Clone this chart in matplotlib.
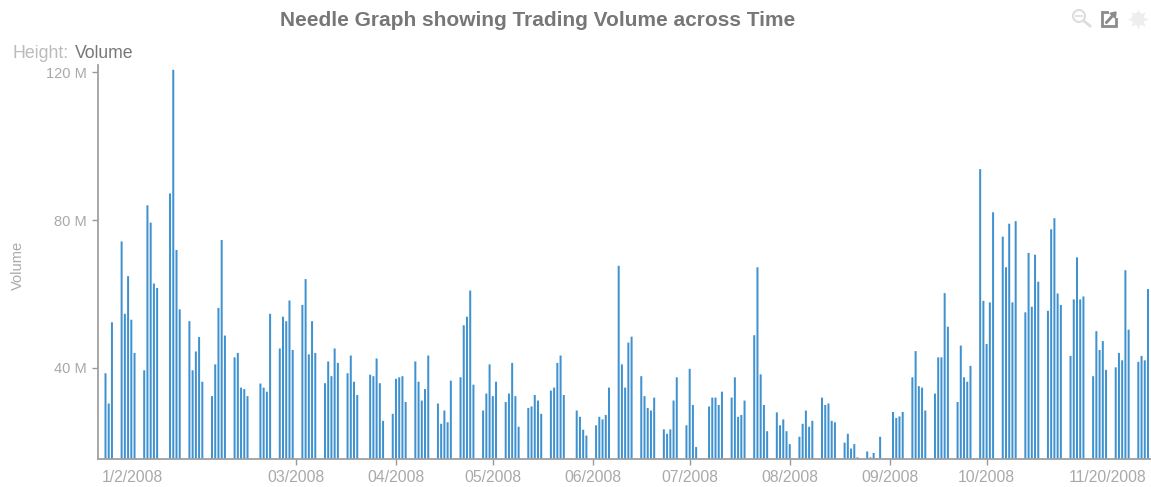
import matplotlib
matplotlib.use("Agg")
import pandas as pd
import matplotlib.pyplot as plt
from matplotlib.patches import Circle, Rectangle, FancyArrow

holidays = ["2008-01-21", "2008-02-18", "2008-03-21", "2008-05-26", "2008-07-04", "2008-09-01"]

# volume in millions, one value per trading day
jan = [38.5, 30.3, 52.3, 74.2, 54.6, 64.8, 53.0, 44.0, 39.3, 84.0, 79.3, 62.8, 61.6,
       87.2, 120.7, 71.9, 55.8, 52.6, 39.3, 44.4, 48.3]
feb = [36.2, 32.3, 40.9, 56.2, 74.6, 48.7, 42.8, 44.0, 34.6, 34.2, 32.3, 35.7, 34.6,
       33.5, 54.6, 45.2, 53.8, 52.6, 58.2, 44.8]
mar = [57.0, 64.0, 43.6, 52.6, 44.0, 35.8, 41.7, 37.7, 45.2, 41.3, 38.5, 43.3, 36.2,
       32.6, 38.1, 37.7, 42.5, 35.8, 25.6, 27.5]
apr = [37.0, 37.4, 37.7, 30.7, 41.7, 36.2, 31.1, 34.2, 43.3, 30.3, 24.8, 28.4, 25.2,
       36.5, 37.4, 51.5, 53.8, 60.9, 35.4, 28.4, 33.0, 40.9]
may = [32.3, 36.2, 30.7, 33.0, 41.3, 32.3, 24.0, 29.1, 29.5, 32.6, 31.1, 27.5, 33.8,
       34.6, 41.3, 43.3, 32.6, 28.4, 26.7, 23.2, 21.6]
jun = [24.4, 26.7, 26.0, 27.2, 34.6, 67.6, 40.9, 34.6, 46.8, 48.4, 37.7, 32.3, 29.1,
       28.4, 31.9, 23.3, 22.1, 23.3, 31.1, 37.4, 24.4]
jul = [39.7, 29.9, 18.5, 29.5, 31.9, 31.9, 29.9, 33.5, 31.9, 37.4, 26.7, 27.2, 31.1,
       48.8, 67.2, 38.2, 29.9, 22.8, 27.9, 24.4, 26.0, 22.8]
aug = [19.3, 21.3, 24.8, 28.4, 24.0, 25.6, 31.9, 29.9, 30.3, 25.6, 25.2, 19.7, 22.1,
       18.1, 19.3, 15.7, 17.3, 15.7, 16.9, 15.4, 21.3]
sep = [28.0, 26.4, 26.8, 28.0, 37.4, 44.5, 35.0, 34.6, 28.4, 33.0, 42.8, 42.8, 60.2,
       51.1, 30.7, 46.0, 37.4, 36.2, 40.5, 93.8, 58.1]
oct_ = [46.4, 57.7, 82.1, 75.5, 67.2, 79.0, 57.7, 79.7, 55.0, 71.1, 56.5, 70.6, 63.3,
        55.4, 77.5, 80.5, 60.1, 57.0, 43.2, 58.5, 69.9, 58.5, 59.3]
nov = [37.7, 49.9, 44.8, 47.2, 39.4, 40.1, 44.0, 42.0, 66.4, 50.3, 41.6, 43.2, 42.0, 61.3]

month_ticks = ["2008-03-01", "2008-04-01", "2008-05-01", "2008-06-01", "2008-07-01",
               "2008-08-01", "2008-09-01", "2008-10-01"]
month_labels = ["03/2008", "04/2008", "05/2008", "06/2008", "07/2008", "08/2008", "09/2008", "10/2008"]
y_ticks = [40, 80, 120]

volume = jan + feb + mar + apr + may + jun + jul + aug + sep + oct_ + nov
days = pd.bdate_range("2008-01-02", "2008-11-20")
days = days[~days.isin(pd.to_datetime(holidays))]

W, H = 1151, 487
GREY = "#a9a9a9"
plt.rcParams["font.family"] = ["Liberation Sans", "DejaVu Sans"]

fig = plt.figure(figsize=(W / 100, H / 100), dpi=100)
ax = fig.add_axes([98 / W, 1 - 458.5 / H, (W - 98) / W, (458.5 - 65) / H])

bars = ax.bar(days, volume, width=0.62, color="#3f92cf", linewidth=0)
for b in bars:
    b.set_snap(False)

# 3.228 px per calendar day, first bar sits 7.5 px right of the axis
ax.set_xlim(pd.Timestamp("2008-01-02") - pd.Timedelta(days=2.32),
            pd.Timestamp("2008-11-20") + pd.Timedelta(days=0.93))
ax.set_ylim(15.4, 122)

ax.set_yticks(y_ticks)
ax.set_yticklabels([str(v) + " M" for v in y_ticks])
ax.set_xticks(pd.to_datetime(month_ticks))
ax.set_xticklabels(month_labels)
ax.tick_params(axis="both", colors="#999999", labelcolor=GREY, length=4, width=1)
ax.tick_params(axis="x", pad=4, labelsize=11.3)
ax.tick_params(axis="y", pad=4, labelsize=10.5)

for s in ["top", "right"]:
    ax.spines[s].set_visible(False)
for s in ["left", "bottom"]:
    ax.spines[s].set_color("#a0a0a0")
    ax.spines[s].set_linewidth(1.3)

# labels of the first and last date, no tick under them
fig.text(132.5 / W, 1 - 478 / H, "1/2/2008", color=GREY, fontsize=11.3, ha="center", va="center")
fig.text(1108 / W, 1 - 478 / H, "11/20/2008", color=GREY, fontsize=11.3, ha="center", va="center")

fig.text(537.5 / W, 1 - 21 / H, "Needle Graph showing Trading Volume across Time",
         color="#777777", fontsize=15, fontweight="bold", ha="center", va="center")
fig.text(13 / W, 1 - 54 / H, "Height:", color="#bbbbbb", fontsize=12.8, ha="left", va="center")
fig.text(75 / W, 1 - 54 / H, "Volume", color="#777777", fontsize=12.7, ha="left", va="center")
fig.text(18 / W, 1 - 265 / H, "Volume", color=GREY, fontsize=10.5, rotation=90, ha="center", va="center")

# toolbar icons, drawn on an overlay in pixel coordinates
ui = fig.add_axes([0, 0, 1, 1], facecolor="none")
ui.set_xlim(0, W)
ui.set_ylim(H, 0)
ui.axis("off")
ui.add_patch(Circle((1079, 16), 6, fill=False, ec="#dddddd", lw=1.5))
ui.plot([1076, 1082], [16, 16], color="#dddddd", lw=1.2)
ui.plot([1084, 1090], [21, 26], color="#dddddd", lw=2)
ui.add_patch(Rectangle((1102.5, 12), 14, 14, fill=False, ec="#8c8c8c", lw=2))
ui.add_patch(Rectangle((1109, 9), 10, 9, fc="white", ec="none"))
ui.add_patch(FancyArrow(1106, 23, 10, -11, width=1.5, head_width=7, head_length=5,
                        length_includes_head=True, color="#8c8c8c"))
ui.plot([1138], [19], marker=(8, 1, 0), ms=15, color="#eeeeee", mew=0)
ui.add_patch(Circle((1138, 19), 6.5, fc="#eeeeee", ec="none"))
ui.add_patch(Circle((1138, 19), 2.5, fc="white", ec="none"))

fig.savefig("out.png", dpi=100)
